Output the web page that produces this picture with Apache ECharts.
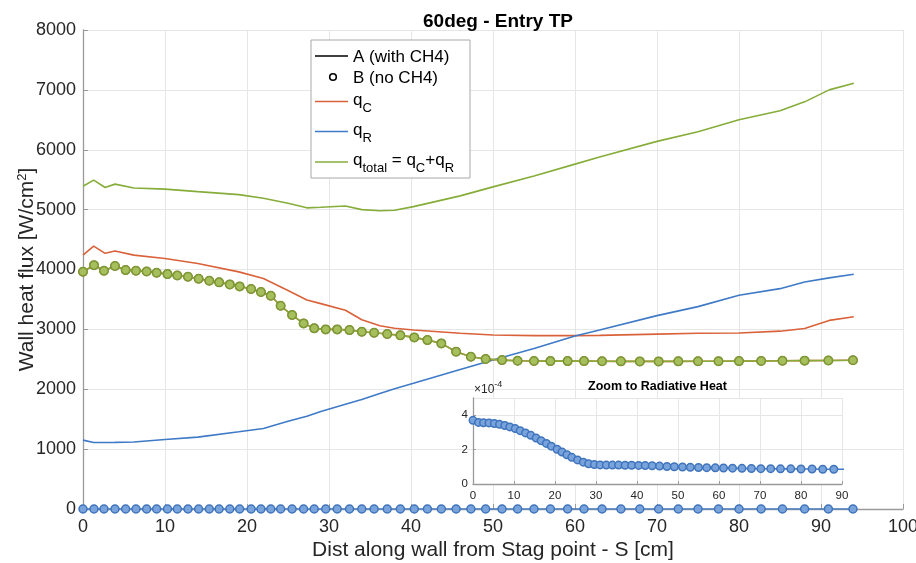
<!DOCTYPE html>
<html>
<head>
<meta charset="utf-8">
<script src="https://cdn.jsdelivr.net/npm/echarts@6/dist/echarts.min.js"></script>
<style>
  html, body { margin: 0; padding: 0; background: #fff; }
  #chart { width: 916px; height: 563px; }
</style>
</head>
<body>
<div id="chart"></div>
<script>
// ---- Case A (with CH4): distance along wall S [cm] and wall heat flux [W/cm^2]
const sA    = [0, 1.3, 2.7, 3.9, 6.2, 10, 14, 19, 22, 25, 27.3, 29, 32, 34, 36.2, 38, 40.3, 46, 50, 55, 60, 63, 70, 75, 80, 85, 88, 91, 94];
const qcA   = [4240, 4390, 4270, 4310, 4240, 4185, 4100, 3960, 3850, 3650, 3490, 3430, 3320, 3160, 3060, 3020, 2990, 2935, 2905, 2895, 2895, 2900, 2920, 2935, 2940, 2970, 3015, 3150, 3210];
const qrA   = [1150, 1110, 1110, 1112, 1120, 1160, 1200, 1290, 1345, 1465, 1550, 1630, 1750, 1830, 1930, 2010, 2100, 2330, 2490, 2680, 2890, 2990, 3230, 3380, 3570, 3680, 3790, 3860, 3920];
const qtotA = [5390, 5492, 5370, 5426, 5362, 5342, 5300, 5250, 5190, 5105, 5030, 5040, 5060, 5000, 4980, 4990, 5050, 5230, 5380, 5560, 5760, 5880, 6140, 6300, 6500, 6650, 6800, 7000, 7110];

// ---- Case B (no CH4)
const sB = [0, 1.34, 2.56, 3.9, 5.2, 6.46, 7.76, 8.98, 10.3, 11.5, 12.8, 14.1, 15.4, 16.6, 17.9, 19.1, 20.5, 21.7, 22.9, 24.1,
            25.5, 26.9, 28.2, 29.6, 31.0, 32.5, 34.0, 35.5, 37.1, 38.7, 40.4, 42.0, 43.7, 45.5, 47.3, 49.1, 51.1, 53.0, 55.0, 57.0,
            59.1, 61.1, 63.3, 65.6, 67.9, 70.2, 72.6, 75.0, 77.5, 80.0, 82.7, 85.3, 88.0, 90.9, 93.9];
// q_R is of order 1e-4 here, so q_C and q_total share the same readings
const qcB = [3962, 4073, 3978, 4057, 3990, 3978, 3968, 3945, 3923, 3901, 3878, 3845, 3812, 3785, 3751, 3718, 3673, 3623, 3561, 3394,
             3239, 3100, 3017, 3000, 3000, 2988, 2960, 2943, 2922, 2900, 2866, 2821, 2766, 2627, 2543, 2504, 2487, 2476, 2471, 2470,
             2470, 2470, 2468, 2466, 2465, 2465, 2466, 2467, 2468, 2470, 2473, 2475, 2478, 2480, 2485];
const qtotB = qcB;
// radiative flux for case B, in units of 1e-4 W/cm^2
const qrB_e4 = [3.70, 3.58, 3.56, 3.55, 3.52, 3.47, 3.40, 3.32, 3.22, 3.10, 2.97, 2.83, 2.67, 2.52, 2.36, 2.20, 2.02, 1.86, 1.70, 1.55,
                1.40, 1.27, 1.18, 1.13, 1.11, 1.10, 1.10, 1.10, 1.09, 1.09, 1.08, 1.07, 1.06, 1.04, 1.02, 1.00, 0.99, 0.97, 0.96, 0.95,
                0.94, 0.93, 0.92, 0.91, 0.90, 0.89, 0.89, 0.88, 0.88, 0.87, 0.87, 0.86, 0.86, 0.86, 0.85];
const QR_SCALE = 1e-4;

// axis ranges
const xRange = { min: 0, max: 100, step: 10 };
const yRange = { min: 0, max: 8000, step: 1000 };
const xRangeZoom = { min: 0, max: 90, step: 10 };
const yRangeZoom = { min: 0, max: 5, step: 2 };

const FONT = '"Liberation Sans", Arial, Helvetica, sans-serif';
const C_ORANGE = '#d9623b';
const C_BLUE = '#3f7ac6';
const C_GREEN = '#86ad3a';
const C_TEXT = '#262626';
const C_AXIS = '#9a9a9a';
const C_GRID = '#e6e6e6';

const pairs = (xs, ys, k) => xs.map((x, i) => [x, ys[i] * (k || 1)]);

const chart = echarts.init(document.getElementById('chart'), null, { renderer: 'canvas' });

// text runs with sub/superscripts, laid out with measured widths
const mctx = document.createElement('canvas').getContext('2d');
function textRun(x, yMid, parts, extra) {
  const els = [];
  let cx = x;
  parts.forEach(([t, size, dy, weight]) => {
    els.push({
      type: 'text', x: cx, y: yMid + dy, z: 20,
      style: Object.assign({ text: t, fontSize: size, fontFamily: FONT, fontWeight: weight || 'normal',
        fill: '#000', align: 'left', verticalAlign: 'middle' }, extra || {})
    });
    mctx.font = (weight || 'normal') + ' ' + size + 'px ' + FONT;
    cx += mctx.measureText(t).width;
  });
  return els;
}

const LEG_F = 17, LEG_S = 13, SUB_DY = 8;
const legend = [
  { type: 'rect', shape: { x: 311, y: 40, width: 159, height: 138 }, z: 19,
    style: { fill: '#fff', stroke: '#a8a8a8', lineWidth: 1 } },
  { type: 'line', shape: { x1: 315, y1: 56, x2: 348, y2: 56 }, z: 20, style: { stroke: '#000', lineWidth: 1.5 } },
  { type: 'circle', shape: { cx: 333, cy: 77, r: 3.3 }, z: 20, style: { fill: 'none', stroke: '#000', lineWidth: 1.6 } },
  { type: 'line', shape: { x1: 315, y1: 101.5, x2: 348, y2: 101.5 }, z: 20, style: { stroke: C_ORANGE, lineWidth: 1.5 } },
  { type: 'line', shape: { x1: 315, y1: 131.5, x2: 348, y2: 131.5 }, z: 20, style: { stroke: C_BLUE, lineWidth: 1.5 } },
  { type: 'line', shape: { x1: 315, y1: 162, x2: 348, y2: 162 }, z: 20, style: { stroke: C_GREEN, lineWidth: 1.5 } },
  ...textRun(353, 57, [['A (with CH4)', LEG_F, 0]]),
  ...textRun(353, 78, [['B (no CH4)', LEG_F, 0]]),
  ...textRun(353, 100, [['q', LEG_F, 0], ['C', LEG_S, SUB_DY]]),
  ...textRun(353, 130, [['q', LEG_F, 0], ['R', LEG_S, SUB_DY]]),
  ...textRun(353, 160, [['q', LEG_F, 0], ['total', LEG_S, SUB_DY], [' = q', LEG_F, 0], ['C', LEG_S, SUB_DY],
                        ['+q', LEG_F, 0], ['R', LEG_S, SUB_DY]])
];

const zoomLabels = [
  { type: 'text', x: 657.5, y: 387, z: 20,
    style: { text: 'Zoom to Radiative Heat', fontSize: 12.5, fontWeight: 'bold', fontFamily: FONT, fill: '#000',
             align: 'center', verticalAlign: 'middle' } },
  ...textRun(474, 390, [['×10', 12, 0], ['-4', 9, -5]], { fill: C_TEXT })
];

const lineSeries = (name, data, color, xi, yi, z) => ({
  name, type: 'line', data, xAxisIndex: xi || 0, yAxisIndex: yi || 0, z: z || 2,
  showSymbol: false, symbol: 'none', smooth: false,
  lineStyle: { color, width: 1.6 }, itemStyle: { color }
});
const markerSeries = (name, data, color, fill, border, size, xi, yi, z) => ({
  name, type: 'line', data, xAxisIndex: xi || 0, yAxisIndex: yi || 0, z: z || 3,
  symbol: 'circle', symbolSize: size, showSymbol: true, showAllSymbol: true,
  lineStyle: { color, width: 1.6 },
  itemStyle: { color: fill, borderColor: border, borderWidth: 1.5 }
});

const axisCommon = {
  axisLine: { show: true, lineStyle: { color: C_AXIS, width: 1.3 } },
  axisTick: { show: true, inside: true, length: 5, lineStyle: { color: C_AXIS } },
  splitLine: { show: true, lineStyle: { color: C_GRID, width: 1 } }
};
const plainNum = v => String(Math.round(v));

const option = {
  animation: false,
  backgroundColor: '#fff',
  title: {
    text: '60deg - Entry TP', left: 493, top: 7, textAlign: 'center',
    textStyle: { fontFamily: FONT, fontSize: 19, fontWeight: 'bold', color: '#000' }
  },
  grid: [
    { left: 83, right: 13, top: 30, bottom: 54, containLabel: false, outerBoundsMode: 'none' },
    { left: 473, top: 398, width: 369, height: 86, show: true, backgroundColor: '#fff', borderWidth: 0, z: 6,
      containLabel: false, outerBoundsMode: 'none' }
  ],
  xAxis: [
    Object.assign({}, axisCommon, {
      type: 'value', gridIndex: 0, min: xRange.min, max: xRange.max, interval: xRange.step,
      name: 'Dist along wall from Stag point - S [cm]', nameLocation: 'middle', nameGap: 31, nameMoveOverlap: false,
      nameTextStyle: { fontSize: 21, color: C_TEXT, fontFamily: FONT },
      axisLabel: { fontSize: 18, color: C_TEXT, fontFamily: FONT, margin: 9, formatter: plainNum }
    }),
    Object.assign({}, axisCommon, {
      type: 'value', gridIndex: 1, min: xRangeZoom.min, max: xRangeZoom.max, interval: xRangeZoom.step, z: 7,
      axisTick: { show: true, inside: true, length: 3, lineStyle: { color: C_AXIS } },
      axisLabel: { fontSize: 11.5, color: C_TEXT, fontFamily: FONT, margin: 6, formatter: plainNum }
    })
  ],
  yAxis: [
    Object.assign({}, axisCommon, {
      type: 'value', gridIndex: 0, min: yRange.min, max: yRange.max, interval: yRange.step,
      name: '{m|Wall heat flux [W/cm}{s|2}{m|]}', nameLocation: 'middle', nameGap: 45, nameMoveOverlap: false,
      nameTextStyle: {
        color: C_TEXT, fontFamily: FONT,
        rich: {
          m: { fontSize: 21, lineHeight: 22, verticalAlign: 'bottom', color: C_TEXT, fontFamily: FONT },
          s: { fontSize: 13, lineHeight: 13, verticalAlign: 'top', padding: [0, 0, 14, 0], color: C_TEXT, fontFamily: FONT }
        }
      },
      axisLabel: { fontSize: 18, color: C_TEXT, fontFamily: FONT, margin: 7, formatter: plainNum }
    }),
    Object.assign({}, axisCommon, {
      type: 'value', gridIndex: 1, min: yRangeZoom.min * QR_SCALE, max: yRangeZoom.max * QR_SCALE,
      interval: yRangeZoom.step * QR_SCALE, z: 7,
      axisTick: { show: true, inside: true, length: 3, lineStyle: { color: C_AXIS } },
      axisLabel: { fontSize: 11.5, color: C_TEXT, fontFamily: FONT, margin: 5, showMaxLabel: false,
                   formatter: v => String(Math.round(v / QR_SCALE)) }
    })
  ],
  series: [
    lineSeries('qC A', pairs(sA, qcA), C_ORANGE),
    lineSeries('qR A', pairs(sA, qrA), C_BLUE),
    lineSeries('qtotal A', pairs(sA, qtotA), C_GREEN),
    markerSeries('qR B', pairs(sB, qrB_e4, QR_SCALE), C_BLUE, '#79a3db', '#3f74bd', 8),
    markerSeries('qC B', pairs(sB, qcB), C_ORANGE, '#e58a6c', '#c75432', 8),
    markerSeries('qtotal B', pairs(sB, qtotB), C_GREEN, '#a7be5d', '#7a9834', 8.5),
    markerSeries('qR B zoom', pairs(sB, qrB_e4, QR_SCALE), C_BLUE, '#79a3db', '#3f74bd', 7.5, 1, 1, 8)
  ],
  graphic: [...legend, ...zoomLabels]
};

chart.setOption(option);
</script>
</body>
</html>
